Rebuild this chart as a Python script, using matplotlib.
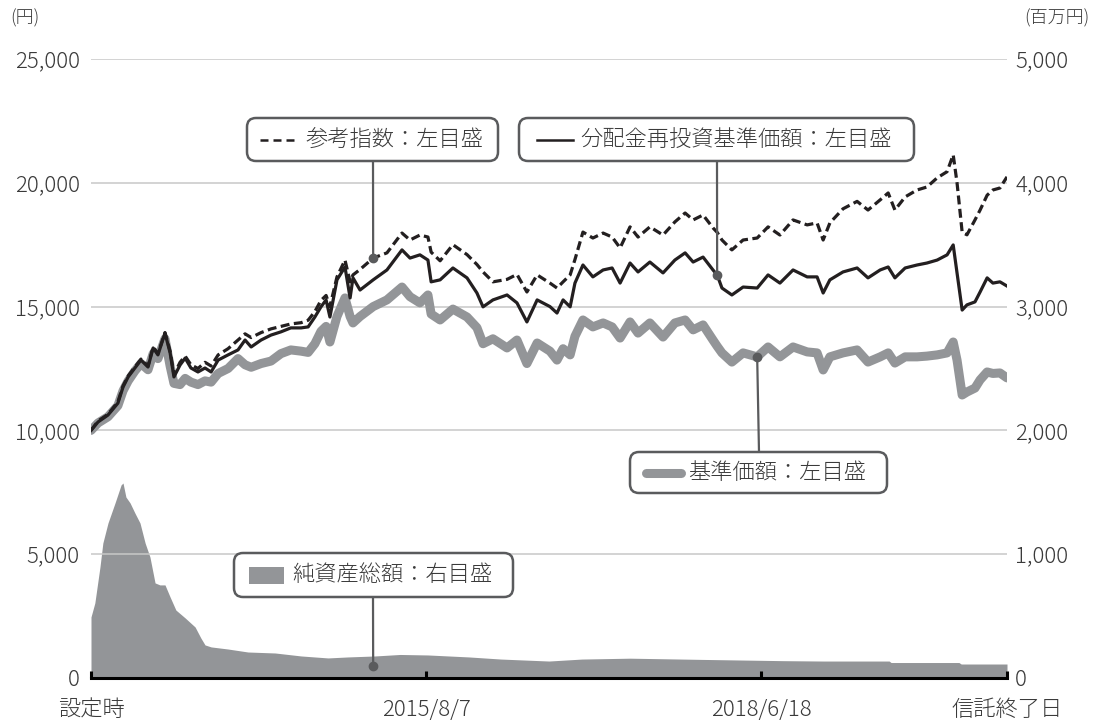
import numpy as np
import pandas as pd
import matplotlib
matplotlib.use('Agg')
import matplotlib.pyplot as plt
from matplotlib.patches import FancyBboxPatch, Rectangle
from matplotlib.lines import Line2D
from matplotlib.transforms import IdentityTransform

plt.rcParams['font.family'] = ['Noto Sans CJK JP', 'DejaVu Sans']
plt.rcParams['font.weight'] = 'light'

# 設定日からの経過日数
start = pd.Timestamp('2012-09-25')
days = [0, 22, 53, 84, 100, 116, 137, 156, 178, 194,
        209, 231, 247, 259, 278, 294, 312, 334, 356, 375,
        397, 428, 459, 481, 500, 531, 562, 593, 624, 656,
        678, 699, 718, 734, 746, 768, 793, 809, 818, 840,
        881, 924, 971, 996, 1027, 1052, 1062, 1090, 1130, 1174,
        1205, 1224, 1255, 1299, 1330, 1361, 1393, 1433, 1455, 1474,
        1496, 1511, 1536, 1567, 1599, 1627, 1652, 1683, 1708, 1745,
        1786, 1823, 1855, 1880, 1911, 1942, 1955, 1970, 2001, 2036,
        2080, 2114, 2151, 2192, 2236, 2267, 2286, 2307, 2348, 2392,
        2426, 2464, 2489, 2510, 2542, 2579, 2610, 2642, 2673, 2692,
        2704, 2720, 2735, 2760, 2776, 2798, 2816, 2838, 2860]

# 分配金再投資基準価額（円）
nav_reinv = [10000, 10340, 10620, 11100, 11750, 12160, 12520, 12840, 12560, 13330,
             13050, 13935, 13130, 12160, 12640, 12920, 12520, 12360, 12520, 12360,
             12840, 13050, 13250, 13650, 13370, 13650, 13850, 13980, 14140, 14140,
             14180, 14580, 14990, 15270, 14580, 16080, 16600, 15350, 16160, 15670,
             16080, 16480, 17290, 16960, 17090, 16880, 16000, 16080, 16560, 16160,
             15550, 14990, 15270, 15470, 15150, 14380, 15270, 15000, 14740, 15270,
             14990, 15950, 16680, 16200, 16480, 16560, 15950, 16760, 16400, 16800,
             16360, 16880, 17170, 16800, 17000, 16480, 16280, 15750, 15470, 15790,
             15750, 16280, 15950, 16480, 16200, 16200, 15550, 16080, 16400, 16560,
             16160, 16480, 16600, 16160, 16560, 16680, 16760, 16880, 17090, 17490,
             16360, 14860, 15070, 15190, 15590, 16160, 15950, 16000, 15830]

# 参考指数（円）
bench = [10000, 10380, 10650, 11150, 11800, 12200, 12560, 12880, 12600, 13380,
         13100, 13950, 13200, 12250, 12750, 13000, 12650, 12500, 12750, 12600,
         13050, 13300, 13650, 13900, 13750, 13950, 14100, 14200, 14300, 14350,
         14450, 14800, 15250, 15450, 15000, 16200, 16880, 16000, 16280, 16500,
         16960, 17170, 17970, 17690, 17890, 17810, 17200, 16850, 17500, 17100,
         16700, 16400, 16000, 16100, 16300, 15590, 16280, 15950, 15750, 16000,
         16280, 16900, 18010, 17770, 17970, 17810, 17370, 18220, 17810, 18220,
         17890, 18420, 18780, 18500, 18700, 18180, 18000, 17690, 17290, 17690,
         17770, 18220, 17890, 18500, 18300, 18380, 17690, 18380, 18950, 19250,
         18900, 19310, 19590, 18900, 19430, 19710, 19830, 20200, 20450, 21130,
         20000, 18000, 17900, 18500, 18900, 19500, 19710, 19790, 20240]

# 基準価額（円）
nav = [10000, 10300, 10550, 11000, 11600, 12000, 12400, 12700, 12450, 13100,
       12900, 13700, 12600, 11900, 11850, 12100, 11950, 11850, 12000, 11950,
       12300, 12500, 12900, 12650, 12550, 12700, 12800, 13100, 13250, 13200,
       13150, 13500, 14000, 14200, 13570, 14600, 15350, 14600, 14340, 14600,
       15000, 15270, 15790, 15400, 15150, 15470, 14700, 14460, 14900, 14580,
       14150, 13500, 13700, 13330, 13650, 12700, 13530, 13200, 12840, 13300,
       13050, 13800, 14460, 14180, 14340, 14180, 13730, 14380, 13930, 14340,
       13770, 14340, 14460, 14060, 14260, 13650, 13400, 13130, 12760, 13130,
       12970, 13370, 12970, 13370, 13170, 13130, 12440, 12970, 13130, 13250,
       12760, 12970, 13130, 12720, 12970, 12970, 13000, 13050, 13130, 13570,
       12840, 11430, 11550, 11710, 12040, 12360, 12300, 12320, 12120]

# 純資産総額（百万円）
net_days = [0, 12, 28, 37, 53, 75, 94, 100, 109, 122,
            137, 153, 169, 184, 200, 215, 231, 247, 265, 294,
            325, 343, 356, 375, 428, 490, 575, 656, 740, 802,
            887, 965, 1052, 1180, 1280, 1430, 1533, 1683, 1911, 2161,
            2286, 2492, 2498, 2710, 2717, 2860]
net_assets = [493, 606, 897, 1090, 1252, 1414, 1560, 1575, 1462, 1414,
              1333, 1252, 1090, 978, 768, 752, 752, 654, 549, 485,
              412, 323, 267, 251, 234, 210, 202, 178, 162, 170,
              178, 190, 186, 170, 153, 137, 153, 160, 150, 140,
              137, 137, 125, 125, 113, 113]

left_ticks = [0, 5000, 10000, 15000, 20000, 25000]
left_labels = ['0', '5,000', '10,000', '15,000', '20,000', '25,000']
right_ticks = [0, 1000, 2000, 3000, 4000, 5000]
right_labels = ['0', '1,000', '2,000', '3,000', '4,000', '5,000']
x_tick_dates = [start, pd.Timestamp('2015-08-07'), pd.Timestamp('2018-06-18'),
                start + pd.Timedelta(days=days[-1])]
x_labels = ['設定時', '2015/8/7', '2018/6/18', '信託終了日']

GREY = '#939598'
BLACK = '#231f20'
EDGE = '#5a5b5d'
TXT = '#3a3a3a'

dates = start + pd.to_timedelta(days, unit='D')
net_dates = start + pd.to_timedelta(net_days, unit='D')

fig = plt.figure(figsize=(10.94, 7.2), dpi=100)
ax = fig.add_axes([91 / 1094, 42 / 720, 916 / 1094, 619 / 720])
ax2 = ax.twinx()
ax.set_zorder(ax2.get_zorder() + 1)
ax.patch.set_visible(False)

# 純資産総額（右目盛）
ax2.fill_between(net_dates, net_assets, 0, color=GREY, lw=0)
ax2.set_ylim(0, 5000)
ax2.set_yticks(right_ticks)
ax2.set_yticklabels(right_labels)

# 価額（左目盛）
ax.plot(dates, nav, color=GREY, lw=6.5, solid_joinstyle='round', solid_capstyle='round')
ax.plot(dates, bench, color=BLACK, lw=2.3, ls=(0, (2.8, 1.4)))
ax.plot(dates, nav_reinv, color=BLACK, lw=2.3)
ax.set_ylim(0, 25000)
ax.set_xlim(x_tick_dates[0], x_tick_dates[-1])
ax.set_yticks(left_ticks)
ax.set_yticklabels(left_labels)
ax.set_xticks(x_tick_dates)
ax.set_xticklabels(x_labels)
ax.yaxis.grid(True, color='#c8c8c8', lw=1.1)
ax.set_axisbelow(True)

for a in (ax, ax2):
    for s in ('left', 'right', 'top'):
        a.spines[s].set_visible(False)
ax2.spines['bottom'].set_visible(False)
ax.spines['bottom'].set_linewidth(2.2)
ax.spines['bottom'].set_color('black')

ax.tick_params(axis='x', direction='in', length=5, width=2.2, color='black',
               pad=15, labelsize=16, labelcolor=TXT)
ax.tick_params(axis='y', length=0, pad=8, labelsize=16, labelcolor=TXT)
ax2.tick_params(axis='y', length=0, pad=6, labelsize=16, labelcolor=TXT)

fig.text(10 / 1094, 1 - 18 / 720, '(円)', fontsize=13, color=TXT, va='center', ha='left')
fig.text(1090 / 1094, 1 - 18 / 720, '(百万円)', fontsize=13, color=TXT, va='center', ha='right')


def box(x0, y0, x1, y1):
    p = FancyBboxPatch((x0, 720 - y1), x1 - x0, y1 - y0,
                       boxstyle='round,pad=0,rounding_size=9',
                       transform=IdentityTransform(), fc='white', ec=EDGE, lw=1.8, zorder=5)
    fig.add_artist(p)


def label(x, y, s):
    fig.text(x / 1094, 1 - y / 720, s, fontsize=16, color=TXT, va='center', ha='left', zorder=7)


def connect(a, xy, px, py):
    a.annotate('', xy=xy, xycoords='data', xytext=(px, 720 - py), textcoords='figure pixels',
               arrowprops=dict(arrowstyle='-', color=EDGE, lw=1.6, shrinkA=0, shrinkB=0))
    a.plot([xy[0]], [xy[1]], 'o', color=EDGE, ms=6, zorder=6)


# 参考指数
i1 = days.index(881)
connect(ax, (dates[i1], bench[i1]), 373, 161)
box(247, 118, 498, 161)
fig.add_artist(Line2D([260, 298], [720 - 140, 720 - 140], transform=IdentityTransform(),
                      color=BLACK, lw=1.8, ls=(0, (3.2, 2.0)), zorder=6))
label(305, 140, '参考指数：左目盛')

# 分配金再投資基準価額
i2 = days.index(1955)
connect(ax, (dates[i2], nav_reinv[i2]), 717, 161)
box(519, 118, 914, 161)
fig.add_artist(Line2D([537, 573], [720 - 140, 720 - 140], transform=IdentityTransform(),
                      color=BLACK, lw=1.8, zorder=6))
label(580, 140, '分配金再投資基準価額：左目盛')

# 基準価額
i3 = days.index(2080)
connect(ax, (dates[i3], nav[i3]), 759, 452)
box(630, 452, 887, 493)
fig.add_artist(Line2D([646, 681], [720 - 473, 720 - 473], transform=IdentityTransform(),
                      color=GREY, lw=6.5, solid_capstyle='round', zorder=6))
label(688, 473, '基準価額：左目盛')

# 純資産総額
connect(ax2, (dates[i1], 100), 373, 597)
box(234, 553, 513, 597)
fig.add_artist(Rectangle((249, 720 - 584), 35, 17, transform=IdentityTransform(),
                         fc=GREY, ec='none', zorder=6))
label(292, 575, '純資産総額：右目盛')

fig.savefig('out.png', dpi=100)
